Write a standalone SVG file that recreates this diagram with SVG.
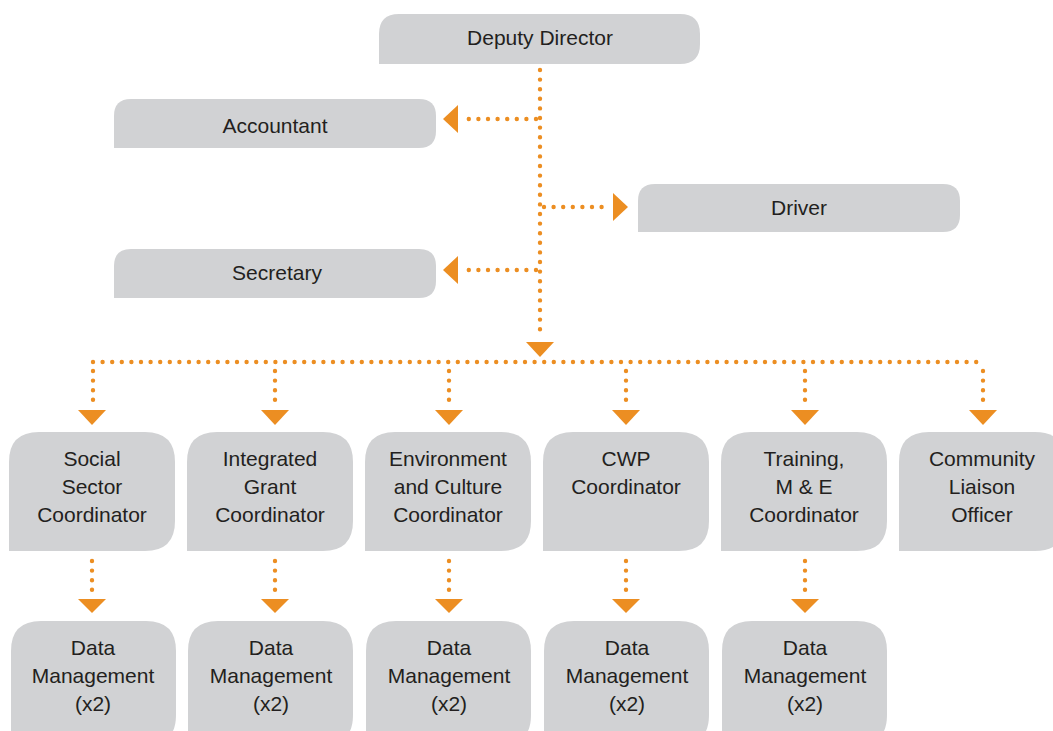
<svg xmlns="http://www.w3.org/2000/svg" width="1053" height="731" viewBox="0 0 1053 731">
<style>
.box{fill:#d1d2d4}
.t{font-family:"Liberation Sans",Arial,sans-serif;font-size:21px;fill:#231f20;text-anchor:middle}
.dot{fill:none;stroke:#ec8e22;stroke-width:4.4;stroke-linecap:round;stroke-dasharray:0 9.6}
.ah{fill:#ec8e22}
</style>
<rect width="1053" height="731" fill="#fff"/>
<g id="connectors">
<path class="dot" d="M540 70 V336"/>
<path class="dot" d="M536 119 H463"/>
<path class="dot" d="M544 207 H608"/>
<path class="dot" d="M536 270 H463"/>
<path class="dot" d="M93 362 H982"/>
<path class="dot" d="M93 371 V402 M275 371 V402 M449 371 V402 M626 371 V402 M805 371 V402 M983 371 V402"/>
<path class="dot" d="M92 561 V592 M275 561 V592 M449 561 V592 M626 561 V592 M805 561 V592"/>
<polygon class="ah" points="443,119 458,105 458,133"/>
<polygon class="ah" points="628,207 613,193 613,221"/>
<polygon class="ah" points="443,270 458,256 458,284"/>
<polygon class="ah" points="526,342 554,342 540,357"/>
<g id="arrows-row1">
<polygon class="ah" points="78,410 106,410 92,425"/>
<polygon class="ah" points="261,410 289,410 275,425"/>
<polygon class="ah" points="435,410 463,410 449,425"/>
<polygon class="ah" points="612,410 640,410 626,425"/>
<polygon class="ah" points="791,410 819,410 805,425"/>
<polygon class="ah" points="969,410 997,410 983,425"/>
</g>
<g id="arrows-row2">
<polygon class="ah" points="78,599 106,599 92,613"/>
<polygon class="ah" points="261,599 289,599 275,613"/>
<polygon class="ah" points="435,599 463,599 449,613"/>
<polygon class="ah" points="612,599 640,599 626,613"/>
<polygon class="ah" points="791,599 819,599 805,613"/>
</g>
</g>
<g id="deputy-director">
<path class="box" d="M379 64 V34 Q379 14 399 14 H680 Q700 14 700 34 V44 Q700 64 680 64 Z"/>
<text class="t" x="540" y="45">Deputy Director</text>
</g>
<g id="accountant">
<path class="box" d="M114 148 V116 Q114 99 131 99 H419 Q436 99 436 116 V131 Q436 148 419 148 Z"/>
<text class="t" x="275" y="133">Accountant</text>
</g>
<g id="driver">
<path class="box" d="M638 232 V201 Q638 184 655 184 H943 Q960 184 960 201 V215 Q960 232 943 232 Z"/>
<text class="t" x="799" y="215">Driver</text>
</g>
<g id="secretary">
<path class="box" d="M114 298 V266 Q114 249 131 249 H419 Q436 249 436 266 V281 Q436 298 419 298 Z"/>
<text class="t" x="277" y="280">Secretary</text>
</g>
<g id="social-sector">
<path class="box" d="M9 551 V462 Q9 432 39 432 H145 Q175 432 175 462 V521 Q175 551 145 551 Z"/>
<text class="t" x="92" y="466">Social</text><text class="t" x="92" y="494">Sector</text><text class="t" x="92" y="522">Coordinator</text>
</g>
<g id="integrated-grant">
<path class="box" d="M187 551 V462 Q187 432 217 432 H323 Q353 432 353 462 V521 Q353 551 323 551 Z"/>
<text class="t" x="270" y="466">Integrated</text><text class="t" x="270" y="494">Grant</text><text class="t" x="270" y="522">Coordinator</text>
</g>
<g id="environment-culture">
<path class="box" d="M365 551 V462 Q365 432 395 432 H501 Q531 432 531 462 V521 Q531 551 501 551 Z"/>
<text class="t" x="448" y="466">Environment</text><text class="t" x="448" y="494">and Culture</text><text class="t" x="448" y="522">Coordinator</text>
</g>
<g id="cwp">
<path class="box" d="M543 551 V462 Q543 432 573 432 H679 Q709 432 709 462 V521 Q709 551 679 551 Z"/>
<text class="t" x="626" y="466">CWP</text><text class="t" x="626" y="494">Coordinator</text>
</g>
<g id="training-me">
<path class="box" d="M721 551 V462 Q721 432 751 432 H857 Q887 432 887 462 V521 Q887 551 857 551 Z"/>
<text class="t" x="804" y="466">Training,</text><text class="t" x="804" y="494">M &amp; E</text><text class="t" x="804" y="522">Coordinator</text>
</g>
<g id="community-liaison">
<path class="box" d="M899 551 V462 Q899 432 929 432 H1035 Q1065 432 1065 462 V521 Q1065 551 1035 551 Z"/>
<text class="t" x="982" y="466">Community</text><text class="t" x="982" y="494">Liaison</text><text class="t" x="982" y="522">Officer</text>
</g>
<g id="data-1">
<path class="box" d="M11 745 V651 Q11 621 41 621 H146 Q176 621 176 651 V715 Q176 745 146 745 Z"/>
<text class="t" x="93" y="655">Data</text><text class="t" x="93" y="683">Management</text><text class="t" x="93" y="711">(x2)</text>
</g>
<g id="data-2">
<path class="box" d="M188 745 V651 Q188 621 218 621 H323 Q353 621 353 651 V715 Q353 745 323 745 Z"/>
<text class="t" x="271" y="655">Data</text><text class="t" x="271" y="683">Management</text><text class="t" x="271" y="711">(x2)</text>
</g>
<g id="data-3">
<path class="box" d="M366 745 V651 Q366 621 396 621 H501 Q531 621 531 651 V715 Q531 745 501 745 Z"/>
<text class="t" x="449" y="655">Data</text><text class="t" x="449" y="683">Management</text><text class="t" x="449" y="711">(x2)</text>
</g>
<g id="data-4">
<path class="box" d="M544 745 V651 Q544 621 574 621 H679 Q709 621 709 651 V715 Q709 745 679 745 Z"/>
<text class="t" x="627" y="655">Data</text><text class="t" x="627" y="683">Management</text><text class="t" x="627" y="711">(x2)</text>
</g>
<g id="data-5">
<path class="box" d="M722 745 V651 Q722 621 752 621 H857 Q887 621 887 651 V715 Q887 745 857 745 Z"/>
<text class="t" x="805" y="655">Data</text><text class="t" x="805" y="683">Management</text><text class="t" x="805" y="711">(x2)</text>
</g>
</svg>
